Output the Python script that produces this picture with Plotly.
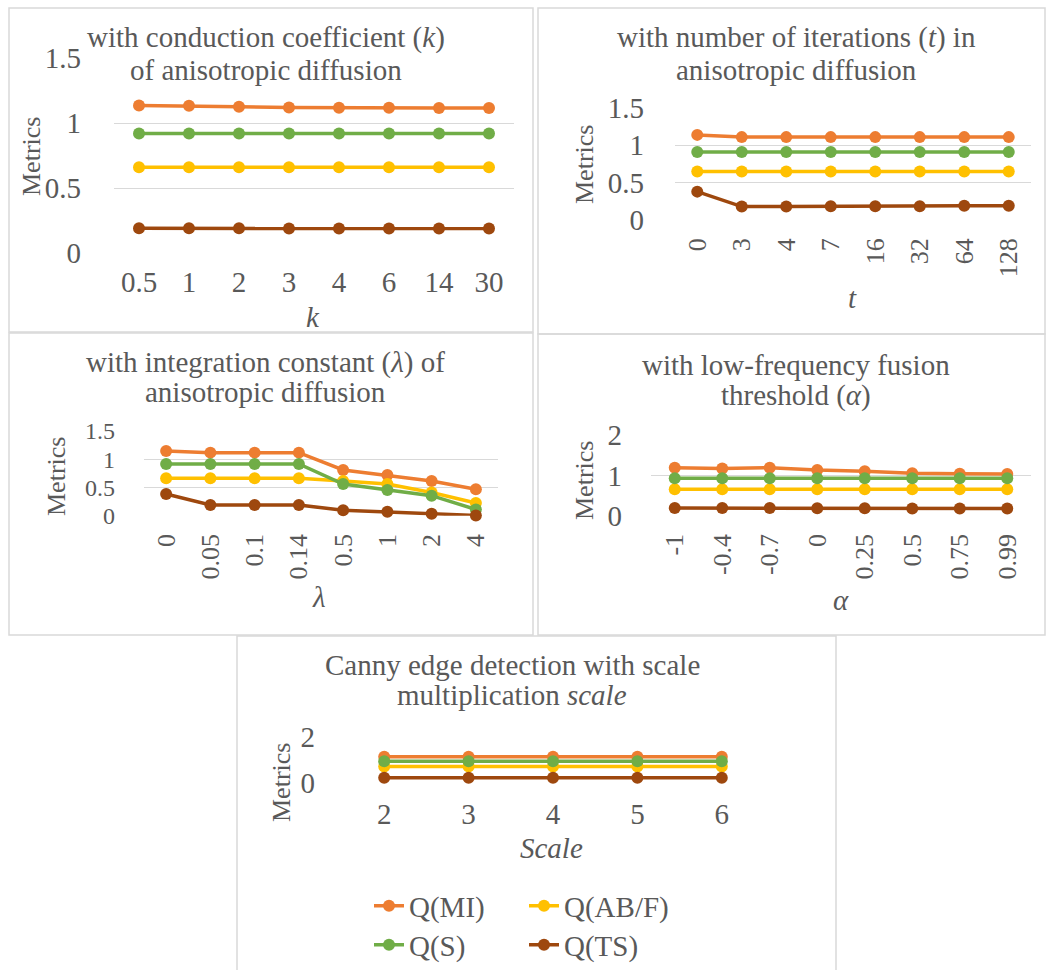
import plotly.graph_objects as go

W, H = 1047, 970
FONT = "Liberation Serif"
GRAY = "#595959"
GRID = "#D9D9D9"
COLORS = {"Q(MI)": "#ED7D31", "Q(AB/F)": "#FFC000", "Q(S)": "#70AD47", "Q(TS)": "#9E480E"}
SERIES = ["Q(MI)", "Q(AB/F)", "Q(S)", "Q(TS)"]

# ---------------- data ----------------
k_labels = ["0.5", "1", "2", "3", "4", "6", "14", "30"]
k_mi = [1.135, 1.133, 1.125, 1.120, 1.117, 1.117, 1.115, 1.115]
k_abf = [0.66, 0.66, 0.66, 0.66, 0.66, 0.66, 0.66, 0.66]
k_s = [0.92, 0.92, 0.92, 0.92, 0.92, 0.92, 0.92, 0.92]
k_ts = [0.19, 0.19, 0.19, 0.188, 0.188, 0.188, 0.188, 0.188]

t_labels = ["0", "3", "4", "7", "16", "32", "64", "128"]
t_mi = [1.14, 1.11, 1.11, 1.11, 1.11, 1.11, 1.11, 1.11]
t_abf = [0.65, 0.65, 0.65, 0.65, 0.65, 0.65, 0.65, 0.65]
t_s = [0.91, 0.91, 0.91, 0.91, 0.91, 0.91, 0.91, 0.91]
t_ts = [0.38, 0.18, 0.18, 0.185, 0.185, 0.185, 0.19, 0.19]

lam_labels = ["0", "0.05", "0.1", "0.14", "0.5", "1", "2", "4"]
lam_mi = [1.147, 1.117, 1.117, 1.117, 0.81, 0.72, 0.615, 0.47]
lam_abf = [0.663, 0.663, 0.663, 0.663, 0.615, 0.56, 0.41, 0.225]
lam_s = [0.917, 0.917, 0.917, 0.917, 0.56, 0.455, 0.355, 0.11]
lam_ts = [0.385, 0.19, 0.19, 0.19, 0.095, 0.07, 0.035, 0.005]

alpha_labels = ["-1", "-0.4", "-0.7", "0", "0.25", "0.5", "0.75", "0.99"]
alpha_mi = [1.19, 1.17, 1.19, 1.13, 1.10, 1.05, 1.04, 1.035]
alpha_abf = [0.655, 0.655, 0.655, 0.655, 0.655, 0.655, 0.655, 0.655]
alpha_s = [0.93, 0.93, 0.93, 0.93, 0.93, 0.93, 0.93, 0.93]
alpha_ts = [0.19, 0.19, 0.19, 0.185, 0.185, 0.18, 0.18, 0.18]

scale_labels = ["2", "3", "4", "5", "6"]
scale_mi = [1.13, 1.13, 1.13, 1.13, 1.13]
scale_abf = [0.70, 0.70, 0.70, 0.70, 0.70]
scale_s = [0.93, 0.93, 0.93, 0.93, 0.93]
scale_ts = [0.22, 0.22, 0.22, 0.22, 0.22]

def X(px):
    return px / W

def Y(py):
    return 1 - py / H

FS_H = 29   # horizontal text
FS_V = 26   # rotated text

panels = [
    dict(labels=k_labels, data=[k_mi, k_abf, k_s, k_ts], box=(114, 514, 58, 253), yr=(0, 1.5), dt=0.5,
         angle=0, title=["with conduction coefficient (<i>k</i>)", "of anisotropic diffusion"],
         tpos=(266, 38, 70), mpos=(32, 157), xt="<i>k</i>", xtpos=(313, 317), ystand=32, xstand=9,
         yfs=FS_H, border=(9, 533, 8, 332)),
    dict(labels=t_labels, data=[t_mi, t_abf, t_s, t_ts], box=(675, 1031, 108, 220), yr=(0, 1.5), dt=0.5,
         angle=-90, title=["with number of iterations (<i>t</i>) in", "anisotropic diffusion"],
         tpos=(796, 38, 70), mpos=(584, 165), xt="<i>t</i>", xtpos=(852, 298), ystand=30, xstand=12,
         yfs=FS_H, border=(538, 1045, 8, 334)),
    dict(labels=lam_labels, data=[lam_mi, lam_abf, lam_s, lam_ts], box=(144, 498, 431, 515.7), yr=(0, 1.5), dt=0.5,
         angle=-90, title=["with integration constant (<i>λ</i>) of", "anisotropic diffusion"],
         tpos=(265, 362, 392), mpos=(56, 477), xt="<i>λ</i>", xtpos=(319, 597), ystand=28, xstand=12,
         yfs=24, border=(9, 533, 333, 635)),
    dict(labels=alpha_labels, data=[alpha_mi, alpha_abf, alpha_s, alpha_ts], box=(651, 1031, 435, 515.7), yr=(0, 2), dt=1,
         angle=-90, title=["with low-frequency fusion", "threshold (<i>α</i>)"],
         tpos=(796, 365, 395), mpos=(584, 481), xt="<i>α</i>", xtpos=(841, 600), ystand=28, xstand=12,
         yfs=FS_H, border=(538, 1045, 334, 635)),
    dict(labels=scale_labels, data=[scale_mi, scale_abf, scale_s, scale_ts], box=(342, 764, 736.7, 782.7), yr=(0, 2), dt=2,
         angle=0, title=["Canny edge detection with scale", "multiplication <i>scale</i>"],
         tpos=(512, 665, 695), mpos=(281, 783), xt="<i>Scale</i>", xtpos=(552, 848), ystand=26, xstand=11,
         yfs=FS_H, border=(237, 836, 636, 980)),
]

fig = go.Figure()
shapes = []
annotations = []

for i, p in enumerate(panels):
    n = i + 1
    xa = "x" if n == 1 else f"x{n}"
    ya = "y" if n == 1 else f"y{n}"
    x0, x1, y0, y1 = p["box"]
    for s, vals in zip(SERIES, p["data"]):
        showleg = (n == 5)
        leg = "legend" if s in ("Q(MI)", "Q(AB/F)") else "legend2"
        fig.add_trace(go.Scatter(
            x=p["labels"], y=vals, name=s, mode="lines+markers",
            line=dict(color=COLORS[s], width=3.5),
            marker=dict(color=COLORS[s], size=12),
            xaxis=xa, yaxis=ya, showlegend=showleg, legend=leg, cliponaxis=False))
    xkey = "xaxis" if n == 1 else f"xaxis{n}"
    ykey = "yaxis" if n == 1 else f"yaxis{n}"
    xfs = FS_V if p["angle"] != 0 else FS_H
    fig.layout[xkey] = dict(
        domain=[X(x0), X(x1)], anchor=ya, type="category",
        range=[-0.5, len(p["labels"]) - 0.5], showgrid=False, zeroline=False,
        showline=False, ticks="", tickangle=p["angle"], automargin=False,
        tickfont=dict(family=FONT, size=xfs, color=GRAY), ticklabelstandoff=p["xstand"])
    fig.layout[ykey] = dict(
        domain=[Y(y1), Y(y0)], anchor=xa, range=list(p["yr"]), dtick=p["dt"], tick0=0,
        showgrid=True, gridcolor=GRID, gridwidth=1, zeroline=False, showline=False, ticks="",
        automargin=False,
        tickfont=dict(family=FONT, size=p["yfs"], color=GRAY), ticklabelstandoff=p["ystand"])
    bx0, bx1, by0, by1 = p["border"]
    shapes.append(dict(type="rect", xref="paper", yref="paper", x0=X(bx0), x1=X(bx1), y0=Y(by1), y1=Y(by0),
                       line=dict(color=GRID, width=1.5), fillcolor="rgba(0,0,0,0)", layer="below"))
    tx, ty1, ty2 = p["tpos"]
    for txt, ty in zip(p["title"], (ty1, ty2)):
        annotations.append(dict(text=txt, x=X(tx), y=Y(ty), xref="paper", yref="paper", showarrow=False,
                                xanchor="center", yanchor="middle", font=dict(family=FONT, size=FS_H, color=GRAY)))
    mx, my = p["mpos"]
    annotations.append(dict(text="Metrics", x=X(mx), y=Y(my), xref="paper", yref="paper", showarrow=False,
                            textangle=-90, xanchor="center", yanchor="middle",
                            font=dict(family=FONT, size=FS_V, color=GRAY)))
    ax_, ay_ = p["xtpos"]
    annotations.append(dict(text=p["xt"], x=X(ax_), y=Y(ay_), xref="paper", yref="paper", showarrow=False,
                            xanchor="center", yanchor="middle", font=dict(family=FONT, size=FS_H, color=GRAY)))

fig.update_layout(
    width=W, height=H, margin=dict(l=0, r=0, t=0, b=0, autoexpand=False),
    paper_bgcolor="white", plot_bgcolor="rgba(0,0,0,0)",
    shapes=shapes, annotations=annotations,
    legend=dict(orientation="h", x=X(369), y=Y(906), xanchor="left", yanchor="middle",
                entrywidth=110, entrywidthmode="pixels", font=dict(family=FONT, size=FS_H, color=GRAY),
                bgcolor="rgba(0,0,0,0)", itemclick=False),
    legend2=dict(orientation="h", x=X(369), y=Y(945), xanchor="left", yanchor="middle",
                 entrywidth=110, entrywidthmode="pixels", font=dict(family=FONT, size=FS_H, color=GRAY),
                 bgcolor="rgba(0,0,0,0)", itemclick=False),
    showlegend=True,
)

fig.write_html("out.html", config={"displayModeBar": False},
               post_script="document.body.style.margin='0px';document.body.style.overflow='hidden';")
